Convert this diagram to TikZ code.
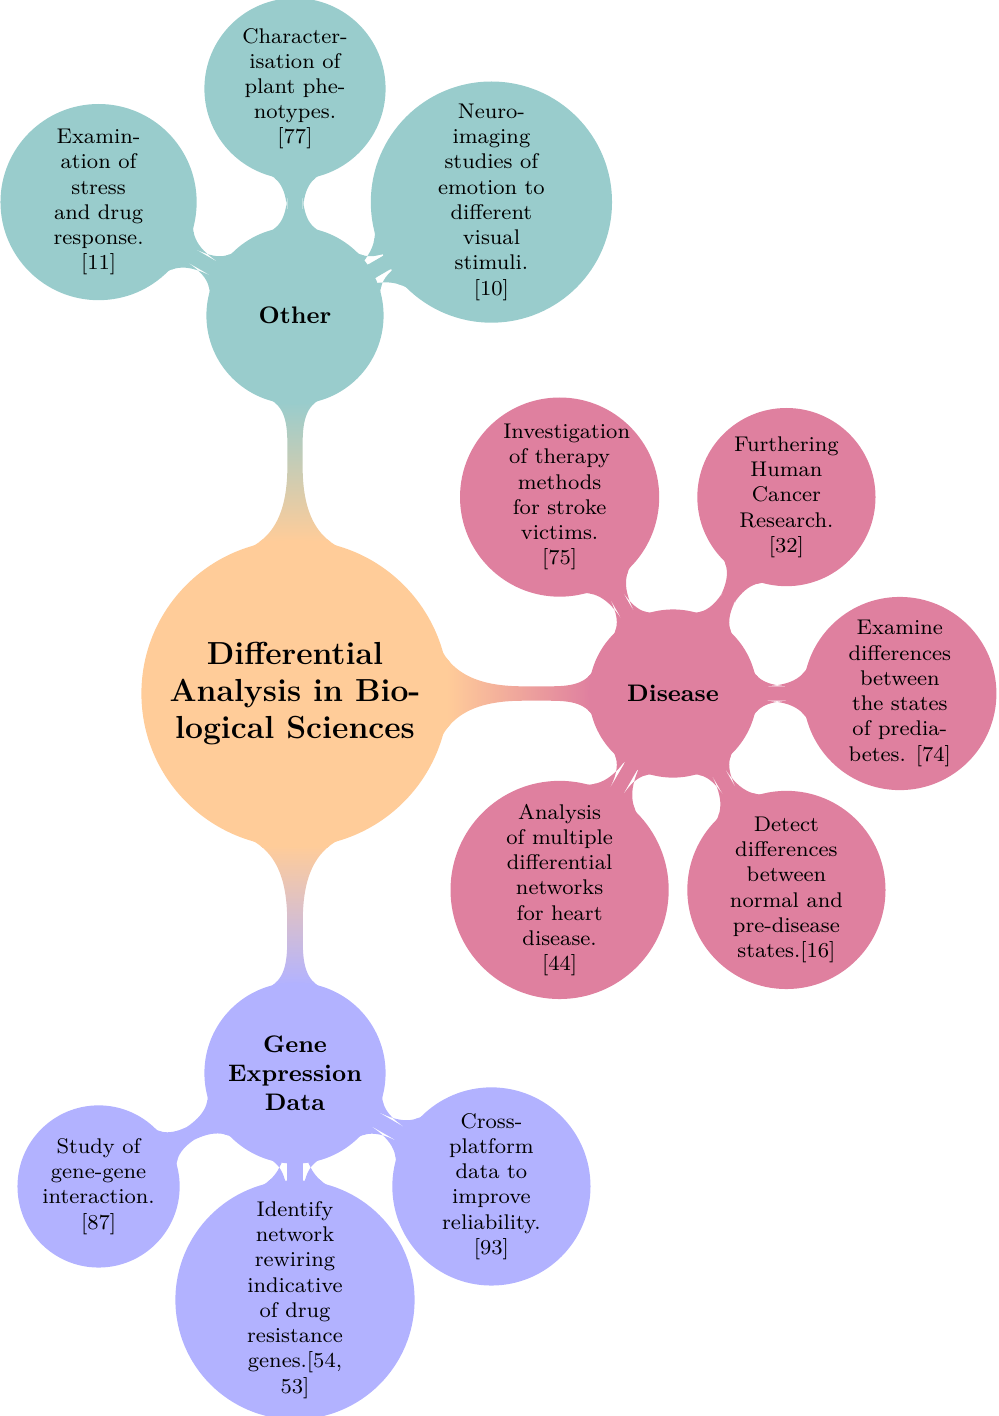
\documentclass[tikz,border=0pt]{standalone}
\usetikzlibrary{mindmap,calc,backgrounds}
\begin{document}
\begin{tikzpicture}[mindmap,
  dia/.style={minimum size=#1*0.37635pt},
  rootc/.style={concept, font=\large\bfseries, align=center, text width=, inner sep=1pt},
  mainc/.style={concept, font=\small\bfseries, align=center, text width=, inner sep=1pt},
  leafc/.style={concept, font=\footnotesize, align=center, text width=, inner sep=1pt},
  cbar/.style args={#1/#2}{circle connection bar switch color=from (#1) to (#2)}]
\useasboundingbox (-111.02pt,261.0pt) rectangle (264.57pt,-271.9pt);
% root and main branches
\node[concept color=orange!40, rootc, dia=304] (root) at (0,0) {Differential\\Analysis in Bio-\\logical Sciences};
\node[concept color=teal!40, mainc, dia=174] (other) at (90:5cm) {Other};
\node[concept color=purple!50, mainc, dia=165] (disease) at (0:5cm) {Disease};
\node[concept color=blue!30, mainc, dia=178] (gene) at (270:5.02cm) {Gene\\Expression\\Data};
% Other leaves
\node[concept color=teal!40, leafc, dia=193] (exam) at ($(other)+(150:3cm)$) {Examin-\\ation of\\stress\\and drug\\response.\\{[11]}};
\node[concept color=teal!40, leafc, dia=178] (char) at ($(other)+(90:3cm)$) {Character-\\isation of\\plant phe-\\notypes.\\{[77]}};
\node[concept color=teal!40, leafc, dia=238] (neuro) at ($(other)+(30:3cm)$) {Neuro-\\imaging\\studies of\\emotion to\\different\\visual\\stimuli.\\{[10]}};
% Disease leaves
\node[concept color=purple!50, leafc, dia=196] (invest) at ($(disease)+(120:3cm)$) {\makebox[0pt]{\hspace*{5.3pt}Investigation}\\of therapy\\methods\\for stroke\\victims.\\{[75]}};
\node[concept color=purple!50, leafc, dia=175] (further) at ($(disease)+(60:3cm)$) {Furthering\\Human\\Cancer\\Research.\\{[32]}};
\node[concept color=purple!50, leafc, dia=190] (examine) at ($(disease)+(0:3cm)$) {Examine\\differences\\between\\the states\\of predia-\\betes. [74]};
\node[concept color=purple!50, leafc, dia=215] (analysis) at ($(disease)+(-120:3cm)$) {Analysis\\of multiple\\differential\\networks\\for heart\\disease.\\{[44]}};
\node[concept color=purple!50, leafc, dia=195] (detect) at ($(disease)+(-60:3cm)$) {Detect\\differences\\between\\normal and\\pre-disease\\states.[16]};
% Gene leaves
\node[concept color=blue!30, leafc, dia=159] (study) at ($(gene)+(210:3cm)$) {Study of\\gene-gene\\interaction.\\{[87]}};
\node[concept color=blue!30, leafc, dia=236] (identify) at ($(gene)+(270:3cm)$) {Identify\\network\\rewiring\\indicative\\of drug\\resistance\\genes.[54,\\53]};
\node[concept color=blue!30, leafc, dia=195] (cross) at ($(gene)+(330:3cm)$) {Cross-\\platform\\data to\\improve\\reliability.\\{[93]}};
% connections
\begin{scope}[on background layer]
\path (root) to[cbar=orange!40/teal!40] (other);
\path (root) to[cbar=orange!40/purple!50] (disease);
\path (root) to[cbar=orange!40/blue!30] (gene);
\path (other) to[cbar=teal!40/teal!40] (exam);
\path (other) to[cbar=teal!40/teal!40] (char);
\path (other) to[cbar=teal!40/teal!40] (neuro);
\path (disease) to[cbar=purple!50/purple!50] (invest);
\path (disease) to[cbar=purple!50/purple!50] (further);
\path (disease) to[cbar=purple!50/purple!50] (examine);
\path (disease) to[cbar=purple!50/purple!50] (analysis);
\path (disease) to[cbar=purple!50/purple!50] (detect);
\path (gene) to[cbar=blue!30/blue!30] (study);
\path (gene) to[cbar=blue!30/blue!30] (identify);
\path (gene) to[cbar=blue!30/blue!30] (cross);
\end{scope}
\end{tikzpicture}
\end{document}
